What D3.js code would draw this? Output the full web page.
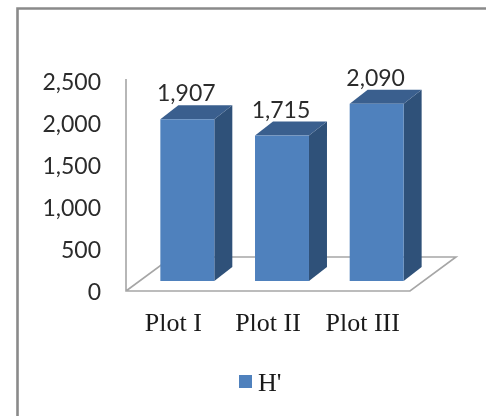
<!DOCTYPE html>
<html><head><meta charset="utf-8">
<script src="https://cdn.jsdelivr.net/npm/d3@7"></script>
<style>html,body{margin:0;background:#fff}svg{display:block;filter:blur(0.4px)}</style></head>
<body><div id="c"></div>
<script>
const categories = ["Plot I","Plot II","Plot III"];
const values = [1907,1715,2090];
const labels = ["1,907","1,715","2,090"];
const yTicks = [0,500,1000,1500,2000,2500];
const seriesName = "H'";

const W=486,H=416, dx=18, dy=14, floorDx=46, floorDy=34, lift=10;
const svg=d3.select("#c").append("svg").attr("width",W).attr("height",H);
svg.append("rect").attr("width",W).attr("height",H).attr("fill","#fff");
// frame
svg.append("path").attr("d",`M17.5,${H}V8.5H${W}`).attr("fill","none").attr("stroke","#8a8a8a").attr("stroke-width",2.6);

const y=d3.scaleLinear().domain([0,2500]).range([291,79]);
const yLabel=d3.scaleLinear().domain([0,2500]).range([291.5,82]);
const x=d3.scaleBand().domain(categories).range([140,424]).paddingInner(0.43).paddingOuter(0.215);
const bw=x.bandwidth();
const sans="Lato, 'Open Sans', sans-serif", serif="'Liberation Serif', serif";

// walls and floor
const xL=126,xR=410,y0=y(0);
svg.append("path").attr("d",`M${xL},${y(2500)}V${y0}H${xR}L${xR+floorDx},${y0-floorDy}H${xL+floorDx}L${xL},${y0}`)
  .attr("fill","none").attr("stroke","#a6a6a6").attr("stroke-width",1.6);

// tick labels
svg.selectAll(".yt").data(yTicks).join("text").attr("class","yt")
  .attr("x",101).attr("y",d=>yLabel(d)).attr("dy","0.35em").attr("text-anchor","end")
  .attr("font-family",sans).attr("font-size",23).attr("fill","#2b2b2b")
  .text(d=>d3.format(",")(d));

// bars
const g=svg.selectAll(".bar").data(values).join("g").attr("class","bar");
const bx=(d,i)=>x(categories[i]), barTop=d=>y(d)-lift, base=y(0)-lift;
g.append("path").attr("fill","#2f5179").attr("d",(d,i)=>`M${bx(d,i)+bw},${barTop(d)}l${dx},${-dy}V${base-dy}l${-dx},${dy}Z`);
g.append("path").attr("fill","#3a5f8e").attr("d",(d,i)=>`M${bx(d,i)},${barTop(d)}l${dx},${-dy}h${bw}l${-dx},${dy}Z`);
g.append("rect").attr("fill","#4f81bd").attr("x",(d,i)=>bx(d,i)).attr("y",d=>barTop(d)).attr("width",bw).attr("height",d=>base-barTop(d));

// value labels
svg.selectAll(".vl").data(values).join("text").attr("class","vl")
  .attr("x",(d,i)=>bx(d,i)+bw/2-1).attr("y",d=>barTop(d)-26).attr("dy","0.35em").attr("text-anchor","middle")
  .attr("font-family",sans).attr("font-size",23).attr("fill","#2b2b2b").text((d,i)=>labels[i]);

// category labels
svg.selectAll(".xl").data(categories).join("text").attr("class","xl")
  .attr("x",d=>x(d)+bw/2-14).attr("y",322).attr("dy","0.35em").attr("text-anchor","middle")
  .attr("font-family",serif).attr("font-size",26).attr("fill","#1a1a1a").text(d=>d);

// legend
svg.append("rect").attr("x",239).attr("y",375).attr("width",13).attr("height",13).attr("fill","#4f81bd");
svg.append("text").attr("x",258).attr("y",381.5).attr("dy","0.35em").attr("font-family",serif).attr("font-size",26).attr("fill","#1a1a1a").text(seriesName);
</script></body></html>
